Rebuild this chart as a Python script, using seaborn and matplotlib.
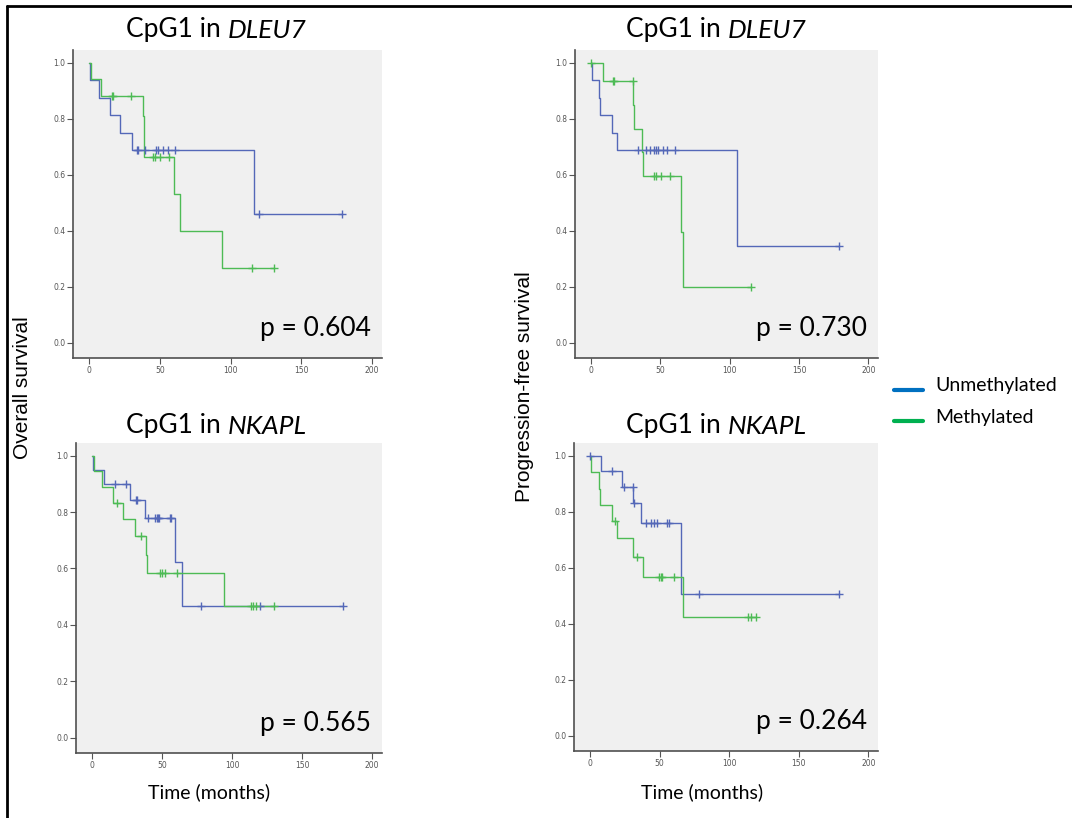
import numpy as np
import pandas as pd
import seaborn as sns
import matplotlib.pyplot as plt
from matplotlib.lines import Line2D

# Kaplan-Meier step curves: event times and survival after each step
# panel 1: overall survival, CpG1 in DLEU7
os_dleu7_unmeth_t = [0, 0.5, 6.6, 14.4, 21.9, 30.4, 116.6]
os_dleu7_unmeth_s = [1.0, 0.9375, 0.875, 0.8125, 0.75, 0.6875, 0.458]
os_dleu7_unmeth_cens = [33.7, 34.2, 39.6, 47.4, 48.3, 52.1, 55.4, 60.8, 119.7, 178.6]
os_dleu7_meth_t = [0, 1.0, 8.2, 37.7, 38.4, 39.0, 59.6, 64.3, 94.2]
os_dleu7_meth_s = [1.0, 0.941, 0.882, 0.809, 0.735, 0.662, 0.529, 0.397, 0.265]
os_dleu7_meth_cens = [16.0, 17.0, 29.5, 45.0, 46.6, 50.0, 56.6, 115.0, 130.3]

# panel 2: progression-free survival, CpG1 in DLEU7
pfs_dleu7_unmeth_t = [0, 1.0, 6.0, 6.8, 15.4, 18.9, 105.5]
pfs_dleu7_unmeth_s = [1.0, 0.9375, 0.875, 0.8125, 0.75, 0.6875, 0.344]
pfs_dleu7_unmeth_cens = [34.0, 39.6, 42.9, 45.5, 46.8, 48.4, 51.6, 54.9, 60.9, 179.0]
pfs_dleu7_meth_t = [0, 8.4, 30.4, 31.0, 36.9, 37.5, 65.2, 66.4]
pfs_dleu7_meth_s = [1.0, 0.933, 0.848, 0.764, 0.679, 0.594, 0.396, 0.198]
pfs_dleu7_meth_cens = [0.3, 15.6, 16.5, 30.0, 45.3, 46.8, 50.4, 57.3, 115.6]

# panel 3: overall survival, CpG1 in NKAPL
os_nkapl_unmeth_t = [0, 0.5, 8.2, 27.0, 37.9, 59.4, 64.5]
os_nkapl_unmeth_s = [1.0, 0.95, 0.90, 0.844, 0.779, 0.623, 0.467]
os_nkapl_unmeth_cens = [16.0, 23.9, 31.3, 32.0, 39.6, 44.9, 46.4, 47.2, 48.0, 55.3, 56.5,
                        77.8, 119.8, 179.0]
os_nkapl_meth_t = [0, 1.0, 7.0, 14.7, 22.2, 30.7, 38.6, 39.2, 94.4]
os_nkapl_meth_s = [1.0, 0.944, 0.889, 0.833, 0.774, 0.714, 0.649, 0.584, 0.468]
os_nkapl_meth_cens = [17.6, 34.6, 48.8, 49.8, 52.2, 60.6, 113.3, 115.2, 117.3, 129.7]

# panel 4: progression-free survival, CpG1 in NKAPL
pfs_nkapl_unmeth_t = [0, 7.9, 22.7, 31.2, 36.6, 65.2]
pfs_nkapl_unmeth_s = [1.0, 0.944, 0.889, 0.83, 0.758, 0.506]
pfs_nkapl_unmeth_cens = [0.2, 15.5, 24.6, 30.8, 31.8, 39.9, 44.2, 45.9, 48.3, 55.7, 56.8,
                         78.1, 179.2]
pfs_nkapl_meth_t = [0, 1.0, 6.5, 7.0, 15.5, 19.1, 30.6, 38.2, 66.9]
pfs_nkapl_meth_s = [1.0, 0.941, 0.882, 0.824, 0.765, 0.706, 0.637, 0.566, 0.425]
pfs_nkapl_meth_cens = [17.8, 33.9, 49.7, 50.9, 52.1, 60.4, 113.5, 115.9, 119.0]

genes = ["DLEU7", "DLEU7", "NKAPL", "NKAPL"]
p_values = ["p = 0.604", "p = 0.730", "p = 0.565", "p = 0.264"]
groups = ["Unmethylated", "Methylated"]

panels = [
    ((os_dleu7_unmeth_t, os_dleu7_unmeth_s, os_dleu7_unmeth_cens),
     (os_dleu7_meth_t, os_dleu7_meth_s, os_dleu7_meth_cens)),
    ((pfs_dleu7_unmeth_t, pfs_dleu7_unmeth_s, pfs_dleu7_unmeth_cens),
     (pfs_dleu7_meth_t, pfs_dleu7_meth_s, pfs_dleu7_meth_cens)),
    ((os_nkapl_unmeth_t, os_nkapl_unmeth_s, os_nkapl_unmeth_cens),
     (os_nkapl_meth_t, os_nkapl_meth_s, os_nkapl_meth_cens)),
    ((pfs_nkapl_unmeth_t, pfs_nkapl_unmeth_s, pfs_nkapl_unmeth_cens),
     (pfs_nkapl_meth_t, pfs_nkapl_meth_s, pfs_nkapl_meth_cens)),
]

curve_colors = ["#5468b8", "#4dbb55"]
legend_colors = ["#0070c0", "#00b050"]

sns.set_style("white")
plt.rcParams['font.family'] = ['Lato', 'DejaVu Sans']
plt.rcParams['text.color'] = 'black'

W, H = 1072, 818
fig = plt.figure(figsize=(W / 100, H / 100), dpi=100)
renderer = fig.canvas.get_renderer()

# axes boxes in pixels: left, top, right, bottom
boxes = [(73, 50, 382, 358), (575, 50, 878, 358), (76, 443, 382, 753), (574, 443, 878, 751)]
title_x = [216, 716, 216, 716]
title_y = [30, 30, 426, 426]

for i, (box, data) in enumerate(zip(boxes, panels)):
    l, t, r, b = box
    ax = fig.add_axes([l / W, 1 - b / H, (r - l) / W, (b - t) / H])
    ax.set_facecolor("#f0f0f0")
    for (times, surv, cens), col, name in zip(data, curve_colors, groups):
        last = max(max(times), max(cens))
        df = pd.DataFrame({"time": list(times) + [last], "surv": list(surv) + [surv[-1]]})
        sns.lineplot(data=df, x="time", y="surv", drawstyle="steps-post", color=col,
                     lw=1.0, estimator=None, sort=False, ax=ax)
        idx = np.searchsorted(times, cens, side="right") - 1
        cdf = pd.DataFrame({"time": cens, "surv": np.array(surv)[idx]})
        sns.scatterplot(data=cdf, x="time", y="surv", marker="+", s=30, color=col,
                        linewidth=1.0, ax=ax, zorder=3)
    ax.set_xlim(-11.5, 207)
    ax.set_ylim(-0.055, 1.045)
    ax.set_xticks([0, 50, 100, 150, 200])
    ax.set_yticks([0.0, 0.2, 0.4, 0.6, 0.8, 1.0])
    ax.set_yticklabels([f"{v:.1f}" for v in [0.0, 0.2, 0.4, 0.6, 0.8, 1.0]])
    ax.tick_params(axis="both", which="both", direction="out", length=4, width=0.8,
                   colors="#555555", labelsize=5.5, pad=1.5, left=True, bottom=True)
    for tl in ax.get_xticklabels() + ax.get_yticklabels():
        tl.set_family(["DejaVu Sans"])
    for side in ["top", "right"]:
        ax.spines[side].set_visible(False)
    for side in ["left", "bottom"]:
        ax.spines[side].set_color("#505050")
        ax.spines[side].set_linewidth(1.2)
    ax.set_xlabel("")
    ax.set_ylabel("")
    ax.text(199, 0.022, p_values[i], ha="right", va="baseline", fontsize=19,
            color="black", transform=ax.transData)

    # title: plain prefix plus italic gene name, centred together
    part1 = fig.text(0, 1 - title_y[i] / H, "CpG1 in ", ha="left", va="center", fontsize=19)
    part2 = fig.text(0, 1 - title_y[i] / H, genes[i], ha="left", va="center", fontsize=19,
                     style="italic")
    w1 = part1.get_window_extent(renderer).width
    w2 = part2.get_window_extent(renderer).width
    x0 = title_x[i] - (w1 + w2) / 2
    part1.set_x(x0 / W)
    part2.set_x((x0 + w1) / W)

fig.text(23 / W, 1 - 388 / H, "Overall survival", rotation=90, ha="center", va="center",
         fontsize=15, family=["Liberation Sans"])
fig.text(524 / W, 1 - 387 / H, "Progression-free survival", rotation=90, ha="center",
         va="center", fontsize=15, family=["Liberation Sans"])
fig.text(209 / W, 1 - 792 / H, "Time (months)", ha="center", va="center", fontsize=14)
fig.text(702 / W, 1 - 792 / H, "Time (months)", ha="center", va="center", fontsize=14)

# legend drawn to the right of the panels
for j, (name, col) in enumerate(zip(groups, legend_colors)):
    yy = 1 - (390 + 31 * j) / H
    fig.add_artist(Line2D([894 / W, 923 / W], [yy, yy], color=col, lw=3))
    fig.text(935 / W, 1 - (385 + 32 * j) / H, name, ha="left", va="center", fontsize=14)

# black frame (left and top edges)
fig.add_artist(Line2D([6.5 / W, 6.5 / W], [0, 1 - 6 / H], color="black", lw=2))
fig.add_artist(Line2D([6.5 / W, 1], [1 - 6 / H, 1 - 6 / H], color="black", lw=2))

fig.savefig("out.png", dpi=100)
